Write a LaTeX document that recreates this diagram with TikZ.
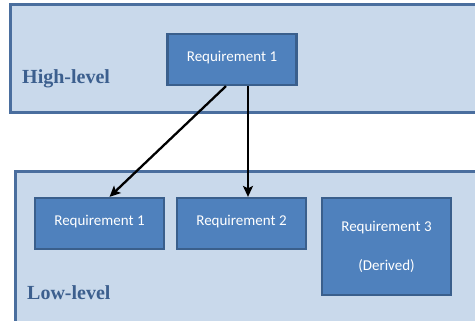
\documentclass[tikz,border=0pt]{standalone}
\usepackage{fontspec}
\setmainfont{Carlito}
\newfontfamily\levelfont{Liberation Serif}
\usetikzlibrary{arrows.meta}
\definecolor{panelfill}{HTML}{C9D9EB}
\definecolor{paneledge}{HTML}{4A6E9E}
\definecolor{reqfill}{HTML}{4F81BD}
\definecolor{reqedge}{HTML}{3A5F8C}
\definecolor{leveltext}{HTML}{3C5F8E}
\tikzset{
  panel/.style={fill=panelfill, draw=paneledge, line width=3pt},
  req/.style={fill=reqfill, draw=reqedge, line width=2.2pt, text=white,
    font=\fontsize{15}{17}\selectfont, inner sep=0pt},
  levellabel/.style={text=leveltext, font=\levelfont\bfseries\fontsize{20}{22}\selectfont, anchor=west, inner sep=0pt},
  link/.style={-{Stealth[length=11pt,width=10pt,inset=2.5pt]}, line width=2.3pt, black}
}
\begin{document}
\begin{tikzpicture}[x=1pt,y=-1pt]
\useasboundingbox (0,0) rectangle (475,321);
\begin{scope}
\clip (0,0) rectangle (475,321);
% upper and lower level panels
\draw[panel] (10,5) rectangle (490,113);
\draw[panel] (15,172) rectangle (490,335);
\end{scope}
% level captions
\node[levellabel] (hl) at (22,79) {High-level};
\node[levellabel] (ll) at (27,293) {Low-level};
% requirement boxes
\node[req, minimum width=129pt, minimum height=51pt] (top) at (232,59.5) {\raisebox{7pt}{Requirement 1}};
\node[req, minimum width=129pt, minimum height=51pt] (r1) at (99.5,223.5) {\raisebox{7pt}{Requirement 1}};
\node[req, minimum width=129pt, minimum height=51pt] (r2) at (241.5,223.5) {\raisebox{7pt}{Requirement 2}};
\node[req, minimum width=129pt, minimum height=97pt, align=center] (r3) at (386.5,246.5)
  {Requirement 3\\[22pt](Derived)};
% derivation arrows
\coordinate (s1) at ([xshift=-6pt]top.south);
\coordinate (s2) at ([xshift=16pt]top.south);
\draw[link] (s1) -- ([xshift=10pt]r1.north);
\draw[link] (s2) -- (s2 |- r2.north);
\end{tikzpicture}
\end{document}
